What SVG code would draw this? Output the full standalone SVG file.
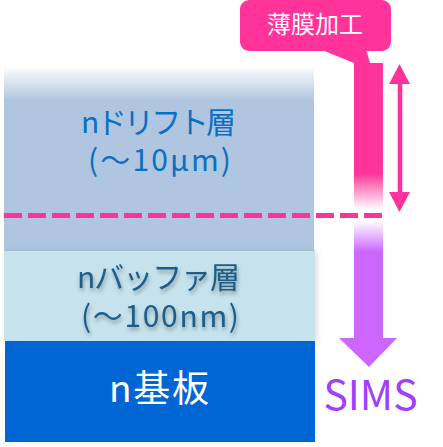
<svg xmlns="http://www.w3.org/2000/svg" width="443" height="447" viewBox="0 0 443 447">
<defs>
<style>
text{font-family:"Noto Sans CJK JP","Noto Sans",sans-serif;text-anchor:middle}
.drift{fill:#0a70c4}
.buf{fill:#1d5d8a;filter:url(#tshadow)}
.l1{font-size:30px}
.l2{font-size:30px}
.sub{fill:#ffffff;font-size:37px}
.pink{fill:#ff3399}
</style>
<linearGradient id="driftFade" x1="0" y1="0" x2="0" y2="1">
<stop offset="0" stop-color="#ffffff"/>
<stop offset="1" stop-color="#b0c6e0"/>
</linearGradient>
<linearGradient id="barGrad" x1="0" y1="63" x2="0" y2="345" gradientUnits="userSpaceOnUse">
<stop offset="0" stop-color="#ff3399"/>
<stop offset="0.39" stop-color="#ff3399"/>
<stop offset="0.52" stop-color="#ffffff"/>
<stop offset="0.56" stop-color="#ffffff"/>
<stop offset="0.67" stop-color="#cc66ff"/>
<stop offset="1" stop-color="#cc66ff"/>
</linearGradient>
<filter id="tshadow" x="-10%" y="-20%" width="120%" height="150%">
<feGaussianBlur in="SourceAlpha" stdDeviation="2"/>
<feOffset dx="1" dy="3"/>
<feComponentTransfer><feFuncA type="linear" slope="0.35"/></feComponentTransfer>
<feMerge><feMergeNode/><feMergeNode in="SourceGraphic"/></feMerge>
</filter>
<filter id="boxShadow" x="-5%" y="-10%" width="110%" height="120%">
<feGaussianBlur in="SourceAlpha" stdDeviation="3"/>
<feOffset dx="2" dy="0"/>
<feComponentTransfer><feFuncA type="linear" slope="0.15"/></feComponentTransfer>
<feMerge><feMergeNode/><feMergeNode in="SourceGraphic"/></feMerge>
</filter>
</defs>

<g id="drift-layer">
<rect x="4" y="66" width="310" height="34" fill="url(#driftFade)"/>
<rect x="4" y="99" width="310" height="152" fill="#b0c6e0"/>
<text class="drift l1" x="158.5" y="133" textLength="155" lengthAdjust="spacing">nドリフト層</text>
<text class="drift l2" x="159.5" y="171" textLength="143" lengthAdjust="spacing">(〜10μm)</text>
</g>

<g id="buffer-layer">
<rect x="4" y="251" width="311" height="90" fill="#c6e3ed" filter="url(#boxShadow)"/>
<text class="buf l1" x="158.5" y="288" textLength="163" lengthAdjust="spacing">nバッファ層</text>
<text class="buf l2" x="160" y="327" textLength="158" lengthAdjust="spacing">(〜100nm)</text>
</g>

<g id="substrate">
<rect x="5" y="341" width="310" height="101" fill="#0066d4"/>
<text class="sub" x="159" y="402" textLength="100" lengthAdjust="spacing">n基板</text>
</g>

<g id="callout">
<rect x="240" y="0" width="151" height="51" rx="9" class="pink"/>
<polygon points="322,50 354,63 370,63 366,49" class="pink"/>
<text x="315" y="33" fill="#ffffff" font-size="24">薄膜加工</text>
</g>

<g id="connectors">
<rect x="354" y="63" width="29" height="276" fill="url(#barGrad)"/>
<polygon points="339,338 397,338 369,367" fill="#cc66ff"/>
<line x1="4" y1="215.5" x2="382" y2="215.5" stroke="#ff3399" stroke-width="5" stroke-dasharray="18,6"/>
<rect x="397.7" y="83" width="4.6" height="110" class="pink"/>
<polygon points="399.5,64 389,84 410,84" class="pink"/>
<polygon points="399.5,212 389,192 410,192" class="pink"/>
</g>

<g id="sims-label">
<text x="370.5" y="410" fill="#a040ff" font-size="41">SIMS</text>
</g>
</svg>
